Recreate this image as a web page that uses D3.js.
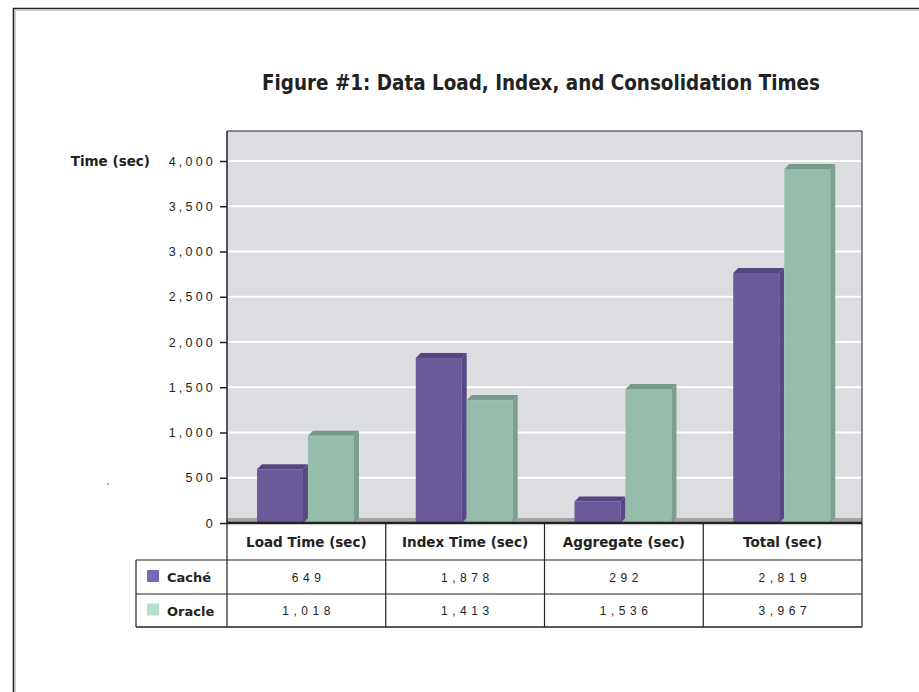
<!DOCTYPE html>
<html>
<head>
<meta charset="utf-8">
<script src="https://cdn.jsdelivr.net/npm/d3@7"></script>
<style>
  body { margin: 0; background: #fff; }
  svg { display: block; }
</style>
</head>
<body>
<svg width="919" height="692"></svg>
<script>
let categories = ["Load Time (sec)", "Index Time (sec)", "Aggregate (sec)", "Total (sec)"];
let seriesNames = ["Caché", "Oracle"];
let cacheValues = [649, 1878, 292, 2819];
let oracleValues = [1018, 1413, 1536, 3967];
let yTicks = [0, 500, 1000, 1500, 2000, 2500, 3000, 3500, 4000];

let colors = {
  "Caché":  {front: "#6a5a99", top: "#544680", side: "#574883", legend: "#7b68b3"},
  "Oracle": {front: "#96bcac", top: "#789a8b", side: "#7d9f90", legend: "#b3dfcb"}
};

let series = seriesNames.map((name, i) => ({name: name, values: i == 0 ? cacheValues : oracleValues}));

let svg = d3.select("svg");

// page frame
svg.append("path")
  .attr("d", "M13.5,692 L13.5,8.5 L919,8.5")
  .attr("fill", "none").attr("stroke", "#222").attr("stroke-width", 1.6);
svg.append("path")
  .attr("d", "M15.5,692 L15.5,10.5 L919,10.5")
  .attr("fill", "none").attr("stroke", "#ccc").attr("stroke-width", 1);

let plotLeft = 227, plotRight = 862, plotTop = 131, plotBottom = 523;
let depth = 5;

let x = d3.scaleBand().domain(categories).range([plotLeft, plotRight]);
let xInner = d3.scaleBand().domain(seriesNames).range([30, 127]).paddingInner(0.1);
let y = d3.scaleLinear().domain([0, 4000]).range([plotBottom, 161]);

// title
svg.append("text")
  .attr("x", 541).attr("y", 90)
  .attr("text-anchor", "middle")
  .attr("font-family", "DejaVu Sans Condensed, DejaVu Sans")
  .attr("font-weight", "bold")
  .attr("font-size", 21.5)
  .attr("fill", "#222")
  .attr("textLength", 558).attr("lengthAdjust", "spacingAndGlyphs")
  .text("Figure #1: Data Load, Index, and Consolidation Times");

// plot background
svg.append("rect")
  .attr("x", plotLeft).attr("y", plotTop)
  .attr("width", plotRight - plotLeft).attr("height", plotBottom - plotTop)
  .attr("fill", "#dcdde0");

// gridlines
svg.append("g").selectAll("line")
  .data(yTicks.filter(d => d > 0))
  .join("line")
  .attr("x1", plotLeft).attr("x2", plotRight)
  .attr("y1", d => y(d)).attr("y2", d => y(d))
  .attr("stroke", "#fff").attr("stroke-width", 2);

// floor
svg.append("rect")
  .attr("x", plotLeft).attr("y", plotBottom - depth)
  .attr("width", plotRight - plotLeft).attr("height", depth)
  .attr("fill", "#a4a4a6");

// bars
let groups = svg.append("g").selectAll("g")
  .data(categories)
  .join("g")
  .attr("transform", d => `translate(${x(d)},0)`);

groups.each(function(cat, ci) {
  let g = d3.select(this);
  series.forEach(s => {
    let x0 = xInner(s.name), w = xInner.bandwidth();
    let yb = y(s.values[ci]), yf = yb + depth;
    let c = colors[s.name];
    g.append("rect")
      .attr("x", x0).attr("y", yf)
      .attr("width", w).attr("height", plotBottom - yf)
      .attr("fill", c.front);
    g.append("path")
      .attr("d", `M${x0},${yf} L${x0 + depth},${yb} L${x0 + w + depth},${yb} L${x0 + w},${yf} Z`)
      .attr("fill", c.top);
    g.append("path")
      .attr("d", `M${x0 + w},${yf} L${x0 + w + depth},${yb} L${x0 + w + depth},${plotBottom - depth} L${x0 + w},${plotBottom} Z`)
      .attr("fill", c.side);
  });
});

// axes
let yAxis = d3.axisLeft(y)
  .tickValues(yTicks)
  .tickSize(7)
  .tickPadding(4)
  .tickFormat(d3.format(","));

let yg = svg.append("g")
  .attr("transform", `translate(${plotLeft},0)`)
  .call(yAxis);
yg.select(".domain").remove();
yg.selectAll(".tick line").attr("stroke", "#222").attr("stroke-width", 1.5);
yg.selectAll(".tick text")
  .attr("font-family", "Liberation Sans, Arial")
  .attr("font-size", 12.5)
  .attr("letter-spacing", "3.2px")
  .attr("fill", "#222");

svg.append("line")
  .attr("x1", plotLeft).attr("x2", plotLeft)
  .attr("y1", plotTop).attr("y2", plotBottom)
  .attr("stroke", "#222").attr("stroke-width", 1.5);
svg.append("line")
  .attr("x1", plotLeft).attr("x2", plotRight)
  .attr("y1", plotTop).attr("y2", plotTop)
  .attr("stroke", "#222").attr("stroke-width", 1);
svg.append("line")
  .attr("x1", plotRight).attr("x2", plotRight)
  .attr("y1", plotTop).attr("y2", plotBottom)
  .attr("stroke", "#222").attr("stroke-width", 1);

svg.append("text")
  .attr("x", 150).attr("y", 166)
  .attr("text-anchor", "end")
  .attr("font-family", "DejaVu Sans")
  .attr("font-weight", "bold")
  .attr("font-size", 13.5)
  .attr("fill", "#222")
  .text("Time (sec)");

// stray dot in the source
svg.append("circle").attr("cx", 108).attr("cy", 484).attr("r", 0.8).attr("fill", "#444");

// data table
let rowY = [plotBottom, 560, 594, 627];
let tableLeft = 136;
let table = svg.append("g");

// header row
table.selectAll(".head")
  .data(categories)
  .join("text")
  .attr("class", "head")
  .attr("x", d => x(d) + x.bandwidth() / 2)
  .attr("y", (rowY[0] + rowY[1]) / 2 + 5)
  .attr("text-anchor", "middle")
  .attr("font-family", "DejaVu Sans")
  .attr("font-weight", "bold")
  .attr("font-size", 13.5)
  .attr("fill", "#222")
  .text(d => d);

let valSpacing = 4.5;
series.forEach((s, i) => {
  let cy = (rowY[i + 1] + rowY[i + 2]) / 2;
  table.append("rect")
    .attr("x", 147).attr("y", cy - 7)
    .attr("width", 12).attr("height", 12)
    .attr("fill", colors[s.name].legend);
  table.append("text")
    .attr("x", 167).attr("y", cy + 5)
    .attr("font-family", "DejaVu Sans")
    .attr("font-weight", "bold")
    .attr("font-size", 13)
    .attr("fill", "#222")
    .text(s.name);
  table.selectAll(".val" + i)
    .data(s.values)
    .join("text")
    .attr("x", (d, j) => x(categories[j]) + x.bandwidth() / 2 + valSpacing / 2)
    .attr("y", cy + 4.5)
    .attr("text-anchor", "middle")
    .attr("font-family", "Liberation Sans, Arial")
    .attr("font-size", 12)
    .attr("letter-spacing", valSpacing + "px")
    .attr("fill", "#222")
    .text(d => d3.format(",")(d));
});

// table grid
let gridStroke = "#222";
table.append("line").attr("x1", plotLeft).attr("x2", plotRight).attr("y1", plotBottom).attr("y2", plotBottom)
  .attr("stroke", gridStroke).attr("stroke-width", 2.5);
table.append("line").attr("x1", tableLeft).attr("x2", plotRight).attr("y1", rowY[1]).attr("y2", rowY[1])
  .attr("stroke", gridStroke).attr("stroke-width", 1.2);
table.append("line").attr("x1", tableLeft).attr("x2", plotRight).attr("y1", rowY[2]).attr("y2", rowY[2])
  .attr("stroke", gridStroke).attr("stroke-width", 1);
table.append("line").attr("x1", tableLeft).attr("x2", plotRight).attr("y1", rowY[3]).attr("y2", rowY[3])
  .attr("stroke", gridStroke).attr("stroke-width", 1.5);
table.append("line").attr("x1", tableLeft).attr("x2", tableLeft).attr("y1", rowY[1]).attr("y2", rowY[3])
  .attr("stroke", gridStroke).attr("stroke-width", 1.2);
table.selectAll(".vline")
  .data(categories.map(d => x(d)).concat([plotRight]))
  .join("line")
  .attr("class", "vline")
  .attr("x1", d => d).attr("x2", d => d)
  .attr("y1", plotBottom).attr("y2", rowY[3])
  .attr("stroke", gridStroke).attr("stroke-width", 1.2);
</script>
</body>
</html>
